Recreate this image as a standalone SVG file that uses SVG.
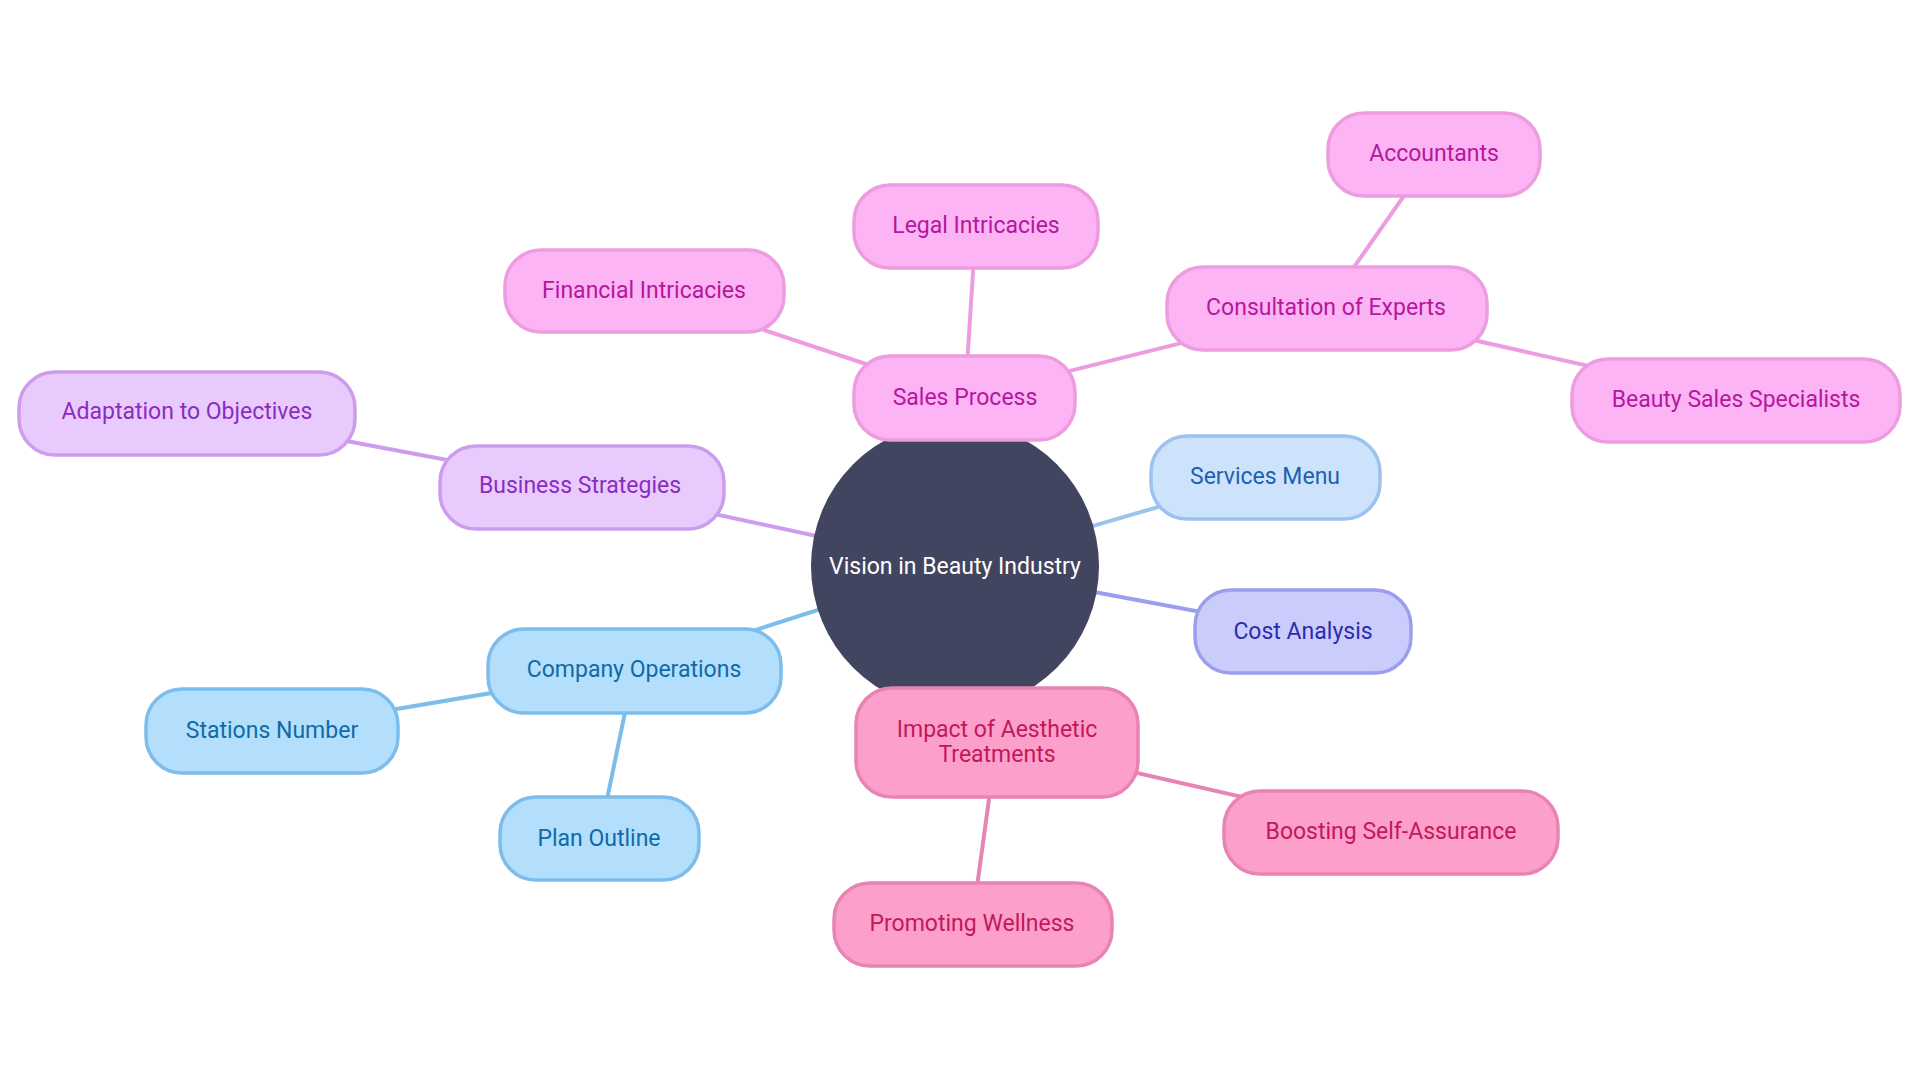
<svg xmlns="http://www.w3.org/2000/svg" width="1920" height="1080" viewBox="0 0 1920 1080">
<style>
text{font-family:Roboto,"Liberation Sans",sans-serif;font-size:23px;text-anchor:middle;dominant-baseline:central}
.e{fill:none;stroke-width:4;stroke-linecap:round}
.n{stroke-width:3.5}
.pk rect{fill:#FCB4F4;stroke:#EE9CE0}.pk text{fill:#B5179E}
.pu rect{fill:#E8CBFC;stroke:#CE9CEC}.pu text{fill:#8A2BC2}
.lb rect{fill:#B3DFFD;stroke:#7DBDEB}.lb text{fill:#0F6AA6}
.sm rect{fill:#CDE3FB;stroke:#9CC2EE}.sm text{fill:#1E5FB4}
.ca rect{fill:#CACCFC;stroke:#9C9EEC}.ca text{fill:#2A2DB0}
.hp rect{fill:#FC9FCB;stroke:#E884B3}.hp text{fill:#C2185B}
</style>
<rect width="1920" height="1080" fill="#ffffff"/>
<g id="connectors">
<line class="e" stroke="#EE9CE0" x1="955" y1="566" x2="965" y2="397"/>
<line class="e" stroke="#EE9CE0" x1="965" y1="397" x2="644" y2="290"/>
<line class="e" stroke="#EE9CE0" x1="965" y1="397" x2="976" y2="225"/>
<line class="e" stroke="#EE9CE0" x1="965" y1="397" x2="1326" y2="307"/>
<line class="e" stroke="#EE9CE0" x1="1326" y1="307" x2="1434" y2="153"/>
<line class="e" stroke="#EE9CE0" x1="1326" y1="307" x2="1736" y2="399"/>
<line class="e" stroke="#9CC2EE" x1="955" y1="566" x2="1265" y2="476"/>
<line class="e" stroke="#9C9EEC" x1="955" y1="566" x2="1303" y2="631"/>
<line class="e" stroke="#CE9CEC" x1="955" y1="566" x2="580" y2="485"/>
<line class="e" stroke="#CE9CEC" x1="580" y1="485" x2="187" y2="411"/>
<line class="e" stroke="#7DBDEB" x1="955" y1="566" x2="634" y2="669"/>
<line class="e" stroke="#7DBDEB" x1="634" y1="669" x2="272" y2="730"/>
<line class="e" stroke="#7DBDEB" x1="634" y1="669" x2="599" y2="838"/>
<line class="e" stroke="#E884B3" x1="955" y1="566" x2="997" y2="741"/>
<line class="e" stroke="#E884B3" x1="997" y1="741" x2="1391" y2="831"/>
<line class="e" stroke="#E884B3" x1="997" y1="741" x2="972" y2="923"/>
</g>
<g id="root"><circle cx="955" cy="566" r="144" fill="#414560"/><text x="955" y="566" fill="#ffffff">Vision in Beauty Industry</text></g>
<g id="sales" class="pk"><rect class="n" x="854" y="356" width="221" height="84" rx="36"/><text x="965" y="397">Sales Process</text></g>
<g id="legal" class="pk"><rect class="n" x="854" y="185" width="244" height="83" rx="36"/><text x="976" y="225">Legal Intricacies</text></g>
<g id="financial" class="pk"><rect class="n" x="505" y="250" width="279" height="82" rx="36"/><text x="644" y="290">Financial Intricacies</text></g>
<g id="consult" class="pk"><rect class="n" x="1167" y="267" width="320" height="83" rx="36"/><text x="1326" y="307">Consultation of Experts</text></g>
<g id="accountants" class="pk"><rect class="n" x="1328" y="113" width="212" height="83" rx="36"/><text x="1434" y="153">Accountants</text></g>
<g id="beautysales" class="pk"><rect class="n" x="1572" y="359" width="328" height="83" rx="36"/><text x="1736" y="399">Beauty Sales Specialists</text></g>
<g id="services" class="sm"><rect class="n" x="1151" y="436" width="229" height="83" rx="36"/><text x="1265" y="476">Services Menu</text></g>
<g id="cost" class="ca"><rect class="n" x="1195" y="590" width="216" height="83" rx="36"/><text x="1303" y="631">Cost Analysis</text></g>
<g id="business" class="pu"><rect class="n" x="440" y="446" width="284" height="83" rx="36"/><text x="580" y="485">Business Strategies</text></g>
<g id="adaptation" class="pu"><rect class="n" x="19" y="372" width="336" height="83" rx="36"/><text x="187" y="411">Adaptation to Objectives</text></g>
<g id="companyops" class="lb"><rect class="n" x="488" y="629" width="293" height="84" rx="36"/><text x="634" y="669">Company Operations</text></g>
<g id="stations" class="lb"><rect class="n" x="146" y="689" width="252" height="84" rx="36"/><text x="272" y="730">Stations Number</text></g>
<g id="plan" class="lb"><rect class="n" x="500" y="797" width="199" height="83" rx="36"/><text x="599" y="838">Plan Outline</text></g>
<g id="impact" class="hp"><rect class="n" x="856" y="688" width="282" height="109" rx="36"/><text x="997" y="729">Impact of Aesthetic</text><text x="997" y="754">Treatments</text></g>
<g id="boosting" class="hp"><rect class="n" x="1224" y="791" width="334" height="83" rx="36"/><text x="1391" y="831">Boosting Self-Assurance</text></g>
<g id="wellness" class="hp"><rect class="n" x="834" y="883" width="278" height="83" rx="36"/><text x="972" y="923">Promoting Wellness</text></g>
</svg>
